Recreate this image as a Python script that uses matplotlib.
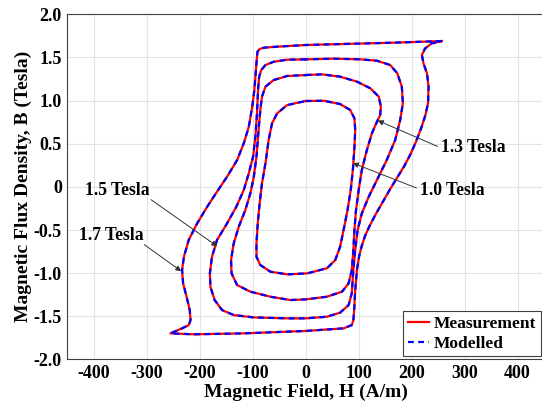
import matplotlib.pyplot as plt

# hysteresis loops (H in A/m, B in Tesla), closed paths
h_17 = [257, 166, 71.5, 0, -54, -79, -87, -91, -92, -94, -97, -101, -107.5, -117, -129.5, -148.5, -167.5, -186,
        -205, -221, -230, -233.5, -231.5, -225, -219, -217.5, -220.8, -233.5, -255.5,
        -211.5, -117, 0, 71.5, 87, 90, 91.5, 93.5, 97, 101, 106, 112, 120, 131, 145, 159, 172, 186, 198, 208,
        218, 226, 231, 232, 229, 222.5, 219.4, 225.5, 238, 257]
b_17 = [1.69, 1.671, 1.656, 1.644, 1.625, 1.613, 1.598, 1.567, 1.51, 1.354, 1.122, 0.929, 0.697, 0.504, 0.311,
        0.118, -0.056, -0.23, -0.423, -0.616, -0.81, -0.964, -1.119, -1.273, -1.428, -1.544, -1.602, -1.64,
        -1.698, -1.709, -1.698, -1.67, -1.64, -1.602, -1.544, -1.428, -1.196, -0.95, -0.80, -0.68, -0.57,
        -0.46, -0.33, -0.18, -0.03, 0.10, 0.24, 0.38, 0.52, 0.68, 0.83, 0.97, 1.161, 1.316, 1.43, 1.528,
        1.605, 1.663, 1.69]

h_15 = [0, -35, -60.5, -76, -84, -88, -90, -92, -95, -99.4, -107.5, -117, -131, -148.5, -167.5, -177, -181, -180,
        -172, -158, -136, -98, -35, 0, 40, 65, 81, 87, 90, 93.5, 98, 106, 119, 134.5, 153, 169, 178.4, 183.5,
        181.5, 173, 159.5, 134.5, 103, 52.6, 0]
b_15 = [1.478, 1.474, 1.45, 1.412, 1.354, 1.277, 1.122, 0.852, 0.582, 0.35, 0.157, -0.037, -0.23, -0.423,
        -0.616, -0.81, -1.003, -1.157, -1.312, -1.428, -1.486, -1.513, -1.524, -1.524, -1.505, -1.458, -1.37,
        -1.234, -0.964, -0.732, -0.5, -0.307, -0.114, 0.079, 0.311, 0.543, 0.775, 0.968, 1.161, 1.316, 1.412,
        1.462, 1.478, 1.486, 1.478]

h_13 = [0, 30.8, 65, 97, 122, 138, 142, 140.5, 134.5, 125, 115.5, 106, 100, 95, 92, 90, 87, 81, 68.6, 40, 0, -29,
        -66.8, -104.5, -129.6, -140, -141, -136, -126.4, -114, -104.5, -98, -93, -89, -85.7, -82.6, -76, -60.5,
        -35, 0]
b_13 = [1.296, 1.304, 1.277, 1.219, 1.142, 1.045, 0.929, 0.832, 0.755, 0.62, 0.427, 0.195, -0.037, -0.268,
        -0.5, -0.732, -0.964, -1.119, -1.215, -1.273, -1.304, -1.312, -1.273, -1.215, -1.138, -1.003, -0.848,
        -0.655, -0.462, -0.268, -0.075, 0.118, 0.35, 0.659, 0.891, 1.045, 1.161, 1.238, 1.285, 1.296]

h_10 = [0, 34, 65, 84, 92, 93.5, 91.7, 89, 85, 79, 71.5, 65, 55.8, 40, 2.5, -35, -66.8, -85.7, -93, -93, -90.6,
        -87, -82.6, -76, -70, -63.6, -54, -35, 0]
b_10 = [0.995, 0.998, 0.96, 0.891, 0.794, 0.659, 0.427, 0.195, -0.037, -0.268, -0.5, -0.693, -0.848, -0.944,
        -1.003, -1.014, -0.983, -0.906, -0.81, -0.655, -0.423, -0.191, 0.041, 0.273, 0.543, 0.736, 0.852,
        0.948, 0.995]

loops = [(h_17, b_17), (h_15, b_15), (h_13, b_13), (h_10, b_10)]

# label text, text anchor, arrow tail, arrow head
labels = ["1.3 Tesla", "1.0 Tesla", "1.5 Tesla", "1.7 Tesla"]
label_pos = [(256, 0.457), (216, -0.04), (-417, -0.04), (-429, -0.565)]
arrow_tail = [(249, 0.469), (209, -0.013), (-292, -0.149), (-305, -0.669)]
arrow_head = [(136, 0.769), (89, 0.276), (-167, -0.689), (-235, -0.978)]

xticks = [-400, -300, -200, -100, 0, 100, 200, 300, 400]
yticks = [2.0, 1.5, 1.0, 0.5, 0, -0.5, -1.0, -1.5, -2.0]
ytick_labels = ["2.0", "1.5", "1.0", "0.5", "0", "-0.5", "-1.0", "-1.5", "-2.0"]

plt.rcParams['font.family'] = ['Liberation Serif', 'DejaVu Serif']
plt.rcParams['font.weight'] = 'bold'

fig = plt.figure(figsize=(5.42, 4.11), dpi=100)
ax = fig.add_axes([0.1244, 0.1255, 0.8793, 0.8397])

for i, (h, b) in enumerate(loops):
    ax.plot(h, b, color='#ff0000', lw=1.6, solid_joinstyle='round',
            label='Measurement' if i == 0 else None)
    ax.plot(h, b, color='#0000ff', lw=1.6, linestyle=(0, (2.6, 2.0)),
            label='Modelled' if i == 0 else None)

for txt, pos, tail, head in zip(labels, label_pos, arrow_tail, arrow_head):
    ax.annotate('', xy=head, xytext=tail,
                arrowprops=dict(arrowstyle='-|>', color='#333333', lw=0.7, mutation_scale=8,
                                shrinkA=0, shrinkB=0))
    ax.text(pos[0], pos[1], txt, fontsize=12.7, fontweight='bold', ha='left', va='center')

ax.set_xlim(-450, 450)
ax.set_ylim(-2, 2)
ax.set_xticks(xticks)
ax.set_xticklabels([str(v) for v in xticks])
ax.set_yticks(yticks)
ax.set_yticklabels(ytick_labels)
ax.tick_params(labelsize=13, direction='in', length=0, pad=4)
ax.grid(True, color='#e3e3e3', lw=0.8)
ax.set_axisbelow(True)
for s in ax.spines.values():
    s.set_color('#404040')
    s.set_linewidth(0.8)

ax.set_xlabel('Magnetic Field, H (A/m)', fontsize=14, fontweight='bold', labelpad=1)
ax.set_ylabel('Magnetic Flux Density, B (Tesla)', fontsize=14, fontweight='bold', labelpad=1)

leg = ax.legend(loc='lower right', fontsize=12.5, handlelength=1.2, handletextpad=0.3,
                borderaxespad=0.2, borderpad=0.25, labelspacing=0.2, fancybox=False, framealpha=1)
leg.get_frame().set_edgecolor('#404040')
leg.get_frame().set_linewidth(0.8)

fig.savefig('out.png', dpi=100)
